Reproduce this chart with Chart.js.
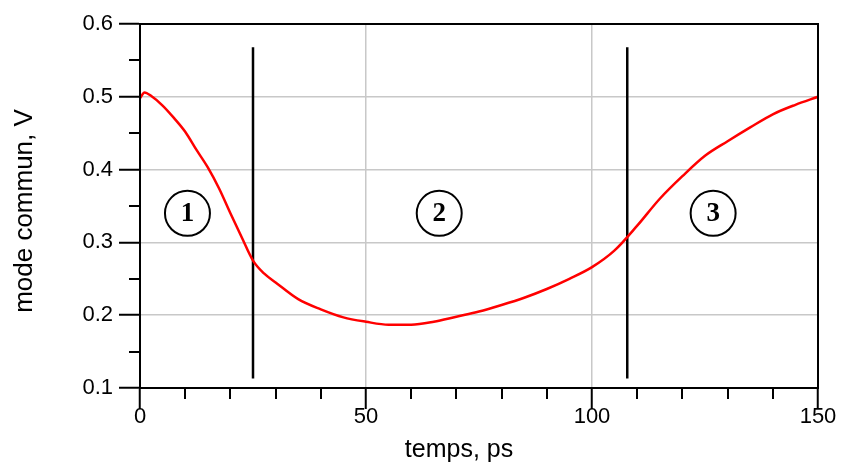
<!DOCTYPE html>
<html>
<head>
<meta charset="utf-8">
<script src="https://cdn.jsdelivr.net/npm/chart.js@4.4.1/dist/chart.umd.min.js"></script>
<style>
  html, body { margin: 0; padding: 0; background: #ffffff; }
  #wrap { width: 841px; height: 464px; }
</style>
</head>
<body>
<div id="wrap"><canvas id="c" width="841" height="464"></canvas></div>
<script>
// Curve: common-mode voltage vs time
const timePs = [0, 1, 2.5, 5, 7.5, 10, 12.5, 15, 17.5, 20, 22.5, 25, 27.5, 30, 35, 40, 45, 50, 55, 60, 65, 70, 75, 80, 85, 90, 95, 100, 105, 110, 115, 120, 125, 130, 135, 140, 145, 150];
const modeCommunV = [0.498, 0.506, 0.501, 0.488, 0.471, 0.452, 0.427, 0.403, 0.374, 0.340, 0.307, 0.275, 0.257, 0.245, 0.222, 0.208, 0.197, 0.191, 0.187, 0.187, 0.191, 0.198, 0.205, 0.214, 0.224, 0.236, 0.250, 0.266, 0.289, 0.323, 0.360, 0.391, 0.419, 0.439, 0.458, 0.476, 0.489, 0.500];

// Region separators (vertical lines)
const separatorX = [25, 107.8];
const separatorYRange = [0.113, 0.568];

// Region markers
const regionLabels = ['1', '2', '3'];
const regionX = [10.5, 66.2, 126.8];
const regionY = [0.340, 0.340, 0.340];

// Axes
const xMin = 0, xMax = 150, xStep = 50, xMinorStep = 10;
const yMin = 0.1, yMax = 0.6, yStep = 0.1, yMinorStep = 0.05;
const xTitle = 'temps, ps';
const yTitle = 'mode commun, V';

const curveData = timePs.map((t, i) => ({ x: t, y: modeCommunV[i] }));
const sepDatasets = separatorX.map(sx => ({
  data: [{ x: sx, y: separatorYRange[0] }, { x: sx, y: separatorYRange[1] }],
  borderColor: '#000000', borderWidth: 2.5, pointRadius: 0, tension: 0, fill: false
}));

// shift axis titles slightly to match the reference placement
const titleShift = {
  id: 'titleShift',
  beforeDraw(chart) {
    const shifts = { x: [-20, 0], y: [0, 5] };
    Object.keys(shifts).forEach(k => {
      const s = chart.scales[k];
      if (!s || s._shiftPatched) return;
      const orig = s.drawTitle.bind(s);
      s.drawTitle = function () {
        this.ctx.save();
        this.ctx.translate(shifts[k][0], shifts[k][1]);
        orig();
        this.ctx.restore();
      };
      s._shiftPatched = true;
    });
  }
};

const frameAndMinor = {
  id: 'frameAndMinor',
  afterDraw(chart) {
    const { ctx, chartArea: a, scales: { x, y } } = chart;
    ctx.save();
    ctx.strokeStyle = '#000';
    ctx.lineWidth = 2;
    ctx.beginPath();
    for (let v = xMin + xMinorStep; v < xMax; v += xMinorStep) {
      if (Math.abs(v % xStep) < 1e-9) continue;
      const px = Math.round(x.getPixelForValue(v));
      ctx.moveTo(px, a.bottom); ctx.lineTo(px, a.bottom + 11);
    }
    for (let k = 1; k < Math.round((yMax - yMin) / yMinorStep); k++) {
      if (k % 2 === 0) continue;
      const v = yMin + k * yMinorStep;
      const py = Math.round(y.getPixelForValue(v));
      ctx.moveTo(a.left, py); ctx.lineTo(a.left - 11, py);
    }
    ctx.stroke();
    ctx.strokeRect(a.left, a.top, a.right - a.left, a.bottom - a.top);
    ctx.restore();
  }
};

const regionMarkers = {
  id: 'regionMarkers',
  afterDatasetsDraw(chart) {
    const { ctx, scales: { x, y } } = chart;
    ctx.save();
    regionLabels.forEach((lab, i) => {
      const cx = x.getPixelForValue(regionX[i]);
      const cy = y.getPixelForValue(regionY[i]);
      ctx.beginPath();
      ctx.arc(cx, cy, 22.5, 0, Math.PI * 2);
      ctx.fillStyle = '#fff';
      ctx.fill();
      ctx.lineWidth = 2;
      ctx.strokeStyle = '#000';
      ctx.stroke();
      ctx.fillStyle = '#000';
      ctx.font = 'bold 27px "Liberation Serif", serif';
      ctx.textAlign = 'center';
      ctx.textBaseline = 'middle';
      ctx.fillText(lab, cx, cy + 1);
    });
    ctx.restore();
  }
};

new Chart(document.getElementById('c'), {
  type: 'line',
  data: {
    datasets: [
      { data: curveData, borderColor: '#ff0000', borderWidth: 2.5, pointRadius: 0, tension: 0.4, cubicInterpolationMode: 'monotone', fill: false },
      ...sepDatasets
    ]
  },
  options: {
    responsive: false,
    animation: false,
    events: [],
    layout: { padding: { top: 24, right: 23, left: 0, bottom: 0 } },
    plugins: { legend: { display: false }, tooltip: { enabled: false } },
    scales: {
      x: {
        type: 'linear', min: xMin, max: xMax,
        afterFit(s) { s.height = 76; },
        border: { display: true, color: '#000', width: 2 },
        grid: {
          color: (c) => (c.tick && (c.tick.value === xMin || c.tick.value === xMax)) ? 'rgba(0,0,0,0)' : '#c8c8c8',
          lineWidth: 1.5, tickColor: '#000', tickLength: 21, tickWidth: 2
        },
        ticks: { stepSize: xStep, padding: -5, color: '#000', font: { family: '"Liberation Sans", Arial, sans-serif', size: 22 }, maxRotation: 0 },
        title: { display: true, text: xTitle, color: '#000', font: { family: '"Liberation Sans", Arial, sans-serif', size: 25, lineHeight: 1 }, padding: { top: 0, bottom: 1 } }
      },
      y: {
        type: 'linear', min: yMin, max: yMax,
        afterFit(s) { s.width = 140; },
        border: { display: true, color: '#000', width: 2 },
        grid: {
          color: (c) => (c.tick && (Math.abs(c.tick.value - yMin) < 1e-9 || Math.abs(c.tick.value - yMax) < 1e-9)) ? 'rgba(0,0,0,0)' : '#c8c8c8',
          lineWidth: 1.5, tickColor: '#000', tickLength: 21, tickWidth: 2
        },
        ticks: { stepSize: yStep, padding: 6, color: '#000', font: { family: '"Liberation Sans", Arial, sans-serif', size: 22 }, callback: (v) => Number(v).toFixed(1) },
        title: { display: true, text: yTitle, color: '#000', font: { family: '"Liberation Sans", Arial, sans-serif', size: 26, lineHeight: 1 }, padding: { top: 12, bottom: 0 } }
      }
    }
  },
  plugins: [titleShift, frameAndMinor, regionMarkers]
});
</script>
</body>
</html>
